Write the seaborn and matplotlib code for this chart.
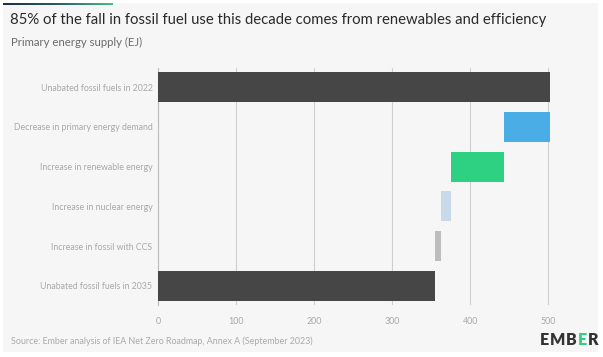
import numpy as np
import pandas as pd
import matplotlib
matplotlib.use("Agg")
import matplotlib.pyplot as plt
from matplotlib.patches import Rectangle
import seaborn as sns

categories = [
    "Unabated fossil fuels in 2022",
    "Decrease in primary energy demand",
    "Increase in renewable energy",
    "Increase in nuclear energy",
    "Increase in fossil with CCS",
    "Unabated fossil fuels in 2035",
]
lengths = [502, 59, 67, 14, 7, 355]
is_total = [True, False, False, False, False, True]
colors = ["#464646", "#4aade6", "#2ed181", "#c8dae9", "#bdbdbd", "#464646"]
xticks = [0, 100, 200, 300, 400, 500]

# waterfall start positions
starts = []
level = 0
for L, tot in zip(lengths, is_total):
    if tot:
        starts.append(0)
        level = L
    else:
        level = level - L
        starts.append(level)

df = pd.DataFrame({"category": categories, "length": lengths})

sns.set_theme(style="white")
plt.rcParams["font.family"] = ["Lato", "DejaVu Sans"]

W, H = 603, 357
fig = plt.figure(figsize=(W / 100, H / 100), dpi=100)
fig.patch.set_facecolor("white")
bg = "#f6f6f6"
fig.patches.append(Rectangle((3 / W, 1 - 352 / H), 595 / W, 349 / H,
                             transform=fig.transFigure, facecolor=bg,
                             edgecolor="none", zorder=-5))

# top gradient line
gax = fig.add_axes([3 / W, 1 - 5 / H, 110 / W, 2 / H])
grad = np.linspace(0, 1, 256).reshape(1, -1)
cmap = matplotlib.colors.LinearSegmentedColormap.from_list("g", ["#1f2b4c", "#2b5a6a", "#45c184"])
gax.imshow(grad, aspect="auto", cmap=cmap)
gax.axis("off")

x0, x1 = 158, 556
xmax = 510
ax = fig.add_axes([x0 / W, 1 - 305 / H, (x1 - x0) / W, (305 - 68) / H])
ax.set_facecolor(bg)
sns.barplot(data=df, x="length", y="category", order=categories, orient="h",
            color=colors[0], saturation=1, left=starts, width=0.75,
            errorbar=None, ax=ax, zorder=3)
for p, c in zip(ax.patches, colors):
    p.set_facecolor(c)
    p.set_edgecolor("none")

ax.set_xlim(0, xmax)
ax.set_ylim(5.48, -0.48)
ax.set_xticks(xticks)
ax.set_xticklabels([str(t) for t in xticks])
ax.grid(axis="x", color="#cfcfcf", linewidth=0.8, zorder=0)
ax.set_axisbelow(True)
for s in ["top", "right", "bottom"]:
    ax.spines[s].set_visible(False)
ax.spines["left"].set_color("#bdbdbd")
ax.spines["left"].set_linewidth(0.8)
ax.tick_params(axis="both", length=0, labelcolor="#a8a8a8")
ax.tick_params(axis="y", pad=4, labelsize=6.3)
ax.tick_params(axis="x", pad=9, labelsize=6.4)
ax.set_xlabel("")
ax.set_ylabel("")

fig.text(10 / W, 1 - 20 / H, "85% of the fall in fossil fuel use this decade comes from renewables and efficiency",
         fontsize=10.7, color="#2a2a2a", va="center", ha="left")
fig.text(11 / W, 1 - 42 / H, "Primary energy supply (EJ)", fontsize=8.2, color="#6b6b6b",
         va="center", ha="left")
fig.text(11 / W, 1 - 341 / H, "Source: Ember analysis of IEA Net Zero Roadmap, Annex A (September 2023)",
         fontsize=6.4, color="#aaaaaa", va="center", ha="left")

# EMBER logo
letters = ["E", "M", "B", "E", "R"]
lcolors = ["#333333", "#333333", "#333333", "#2ed181", "#333333"]
renderer = fig.canvas.get_renderer()
xx = 540
for ch, c in zip(letters, lcolors):
    t = fig.text(xx / W, 1 - 340 / H, ch, fontsize=11.5, fontweight="heavy", color=c,
                 va="center", ha="left")
    bb = t.get_window_extent(renderer=renderer)
    xx += bb.width + 0.8

fig.savefig("out.png", dpi=100, facecolor=fig.get_facecolor())
